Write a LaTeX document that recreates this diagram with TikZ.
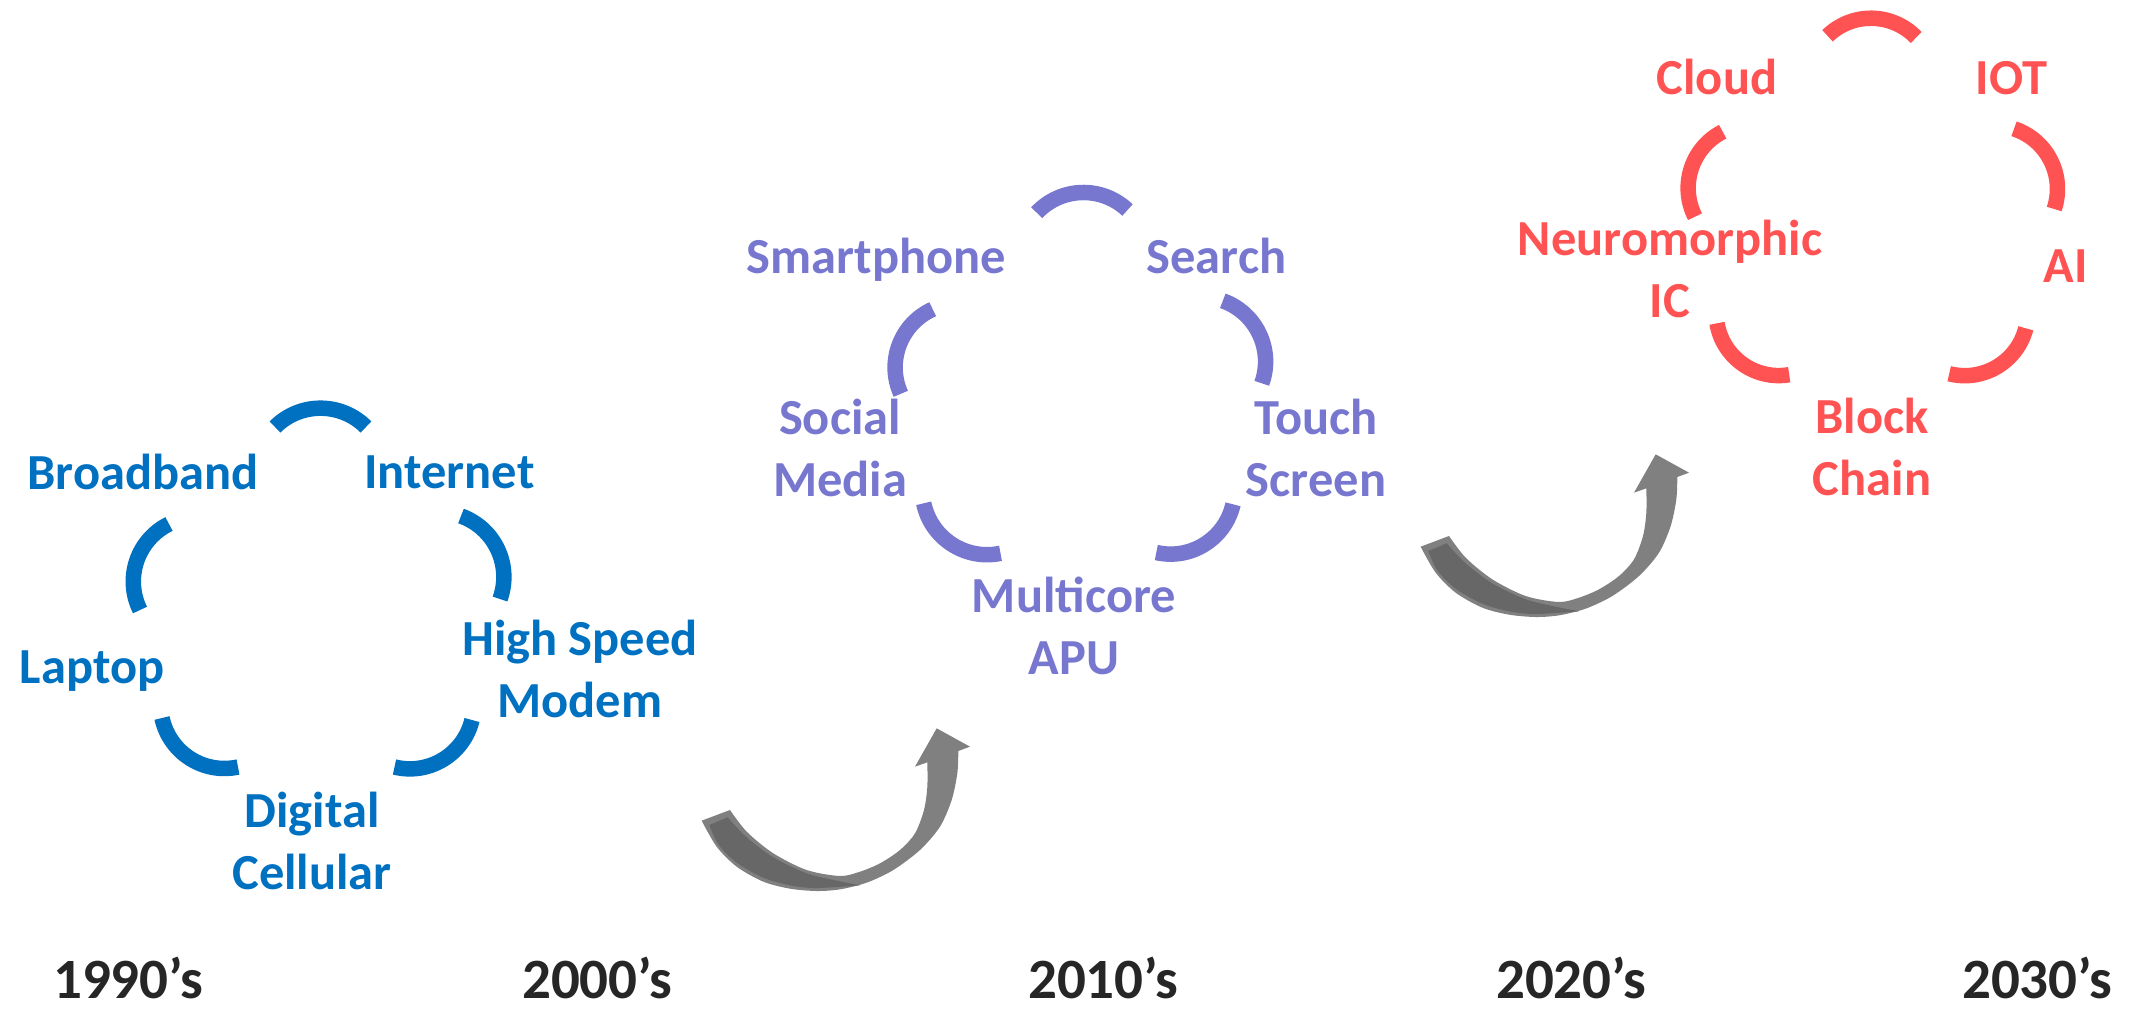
\documentclass[tikz,border=0pt]{standalone}
\usepackage{fontspec}
\setmainfont{Carlito}
\definecolor{cblue}{HTML}{0070C0}
\definecolor{cpurple}{HTML}{7777CF}
\definecolor{cred}{HTML}{FF5353}
\definecolor{cyear}{HTML}{262626}
\definecolor{agray}{HTML}{808080}
\definecolor{adark}{HTML}{676767}
\tikzset{
  lbl/.style={font=\bfseries\fontsize{50.5}{62}\selectfont, inner sep=0pt, align=center, anchor=base},
  yr/.style={font=\bfseries\fontsize{57}{68}\selectfont, text=cyear, inner sep=0pt, anchor=base},
  seg/.style={line width=15.5pt, line cap=butt},
  pics/twist/.style={code={
    \begin{scope}[x=0.33333pt,y=-0.33333pt]
      \fill[agray] (65,362) -- plot[smooth] coordinates {(65,362) (110,440) (170,500) (250,545) (330,566) (410,573) (480,568) (560,548) (640,510) (720,450) (780,380) (815,300) (832,220) (835,153)}
        -- (870,140) -- (770,85) -- (705,200) -- (742,187)
        -- plot[smooth] coordinates {(742,187) (742,260) (732,330) (705,400) (660,450) (600,490) (540,515) (480,528) (380,510) (280,460) (200,395) (150,330)}
        -- cycle;
      \fill[adark] (143,352) -- plot[smooth] coordinates {(143,352) (200,412) (280,472) (380,520) (470,542) (540,556)}
        -- plot[smooth] coordinates {(540,556) (470,561) (400,564) (330,556) (250,533) (170,488) (115,433) (88,375)}
        -- cycle;
    \end{scope}
  }}
}
\begin{document}
\begin{tikzpicture}[x=1pt,y=-1pt]
\useasboundingbox (0,0) rectangle (2129,1010);

% ---------- 1990's cycle (blue)
\coordinate (b1s) at (275,427);   \coordinate (b1e) at (366,427);
\coordinate (b2s) at (461,516);   \coordinate (b2e) at (500,599);
\coordinate (b3s) at (472,720);   \coordinate (b3e) at (394.5,767);
\coordinate (b4s) at (238,767);   \coordinate (b4e) at (162,718);
\coordinate (b5s) at (140,610);   \coordinate (b5e) at (169,524);
\foreach \i in {1,...,5} {\draw[seg, cblue] (b\i s) to[bend left=45] (b\i e);}
\node[lbl, text=cblue] (broadband) at (143,489) {Broadband};
\node[lbl, text=cblue] (internet) at (449.5,488) {Internet};
\node[lbl, text=cblue] (modem) at (580,717) {High Speed\\Modem};
\node[lbl, text=cblue] (laptop) at (92,683) {Laptop};
\node[lbl, text=cblue] (cellular) at (312,889) {Digital\\Cellular};

% ---------- 2010's cycle (purple)
\coordinate (p1s) at (1036.7,212.7); \coordinate (p1e) at (1127.5,210);
\coordinate (p2s) at (1222.8,300.8); \coordinate (p2e) at (1261.8,383.3);
\coordinate (p3s) at (1233,504.3);   \coordinate (p3e) at (1156.3,552.5);
\coordinate (p4s) at (1000.5,553.3); \coordinate (p4e) at (923.7,503.3);
\coordinate (p5s) at (900.8,393.8);  \coordinate (p5e) at (932.7,309.2);
\foreach \i in {1,...,5} {\draw[seg, cpurple] (p\i s) to[bend left=45] (p\i e);}
\node[lbl, text=cpurple] (smartphone) at (876.5,273) {Smartphone};
\node[lbl, text=cpurple] (search) at (1216.5,273) {Search};
\node[lbl, text=cpurple] (social) at (840,496) {Social\\Media};
\node[lbl, text=cpurple] (touch) at (1316,496) {Touch\\Screen};
\node[lbl, text=cpurple] (multicore) at (1074,674) {Multicore\\APU};

% ---------- 2030's cycle (red)
\coordinate (r1s) at (1827.5,35.8);  \coordinate (r1e) at (1916.2,37.5);
\coordinate (r2s) at (2014,128.8);   \coordinate (r2e) at (2054.2,209);
\coordinate (r3s) at (2025.8,328.3); \coordinate (r3e) at (1949.2,373.7);
\coordinate (r4s) at (1789.2,374.7); \coordinate (r4e) at (1717,323.3);
\coordinate (r5s) at (1695,216.7);   \coordinate (r5e) at (1722.7,131.7);
\foreach \i in {1,...,5} {\draw[seg, cred] (r\i s) to[bend left=45] (r\i e);}
\node[lbl, text=cred] (cloud) at (1717,94) {Cloud};
\node[lbl, text=cred] (iot) at (2011.7,94) {IOT};
\node[lbl, text=cred] (neuro) at (1670,317) {Neuromorphic\\IC};
\node[lbl, text=cred] (ai) at (2066,282) {AI};
\node[lbl, text=cred] (block) at (1872,495) {Block\\Chain};

% ---------- transition arrows
\pic (arrowA) at (680,700) {twist};
\pic (arrowB) at (1399,426) {twist};

% ---------- decades
\node[yr] (y1990) at (128,998) {1990’s};
\node[yr] (y2000) at (597,998) {2000’s};
\node[yr] (y2010) at (1103,998) {2010’s};
\node[yr] (y2020) at (1571,998) {2020’s};
\node[yr] (y2030) at (2037,998) {2030’s};
\end{tikzpicture}
\end{document}
